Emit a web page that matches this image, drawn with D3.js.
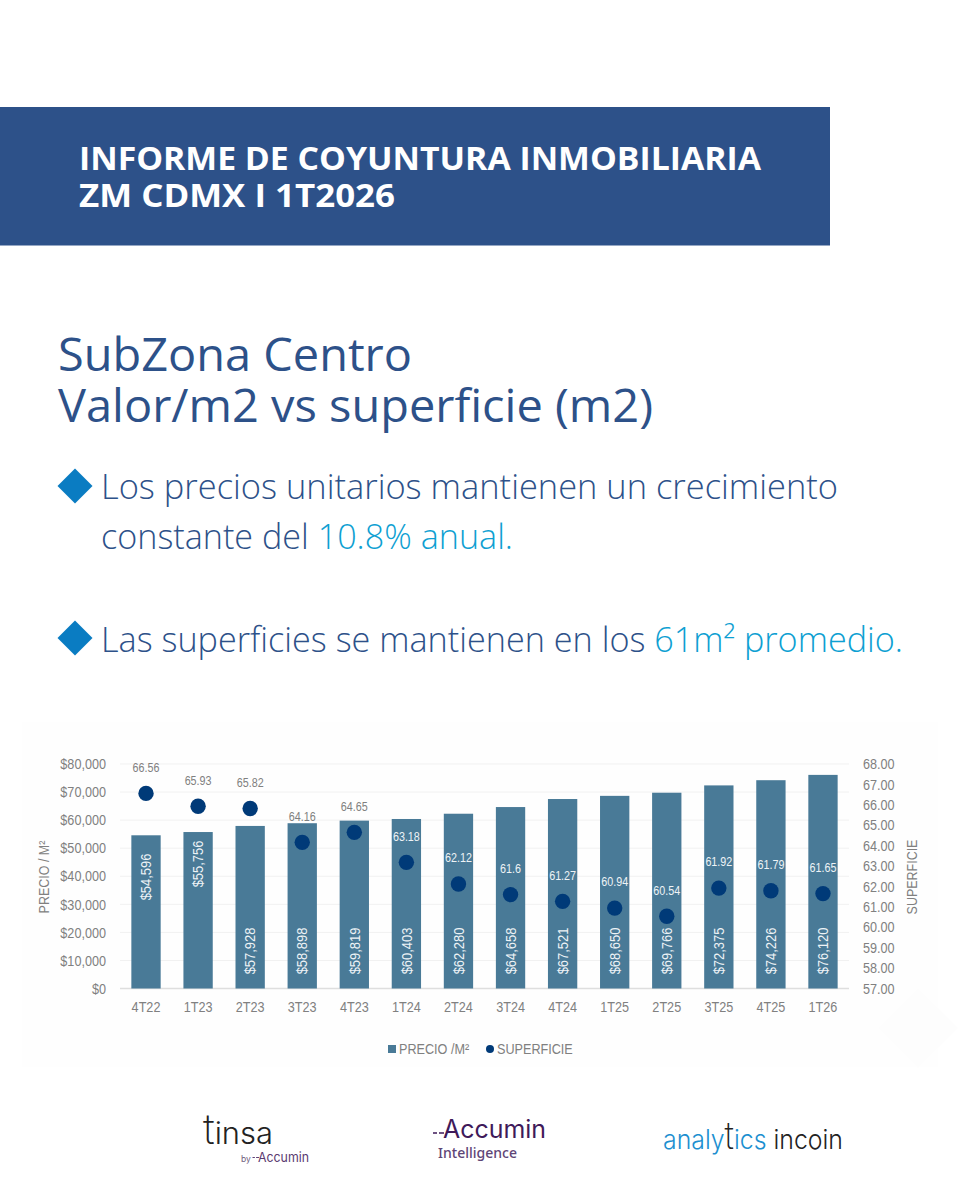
<!DOCTYPE html>
<html lang="es">
<head>
<meta charset="utf-8">
<script src="https://cdn.jsdelivr.net/npm/d3@7"></script>
<style>
html,body{margin:0;padding:0;background:#fff}
svg{display:block}
.ui{font-family:"Open Sans",sans-serif}
.ch{font-family:"Liberation Sans",Arial,sans-serif}
.axis path,.axis line{display:none}
</style>
</head>
<body>
<svg id="c" width="960" height="1200"></svg>
<script>
const categories = ["4T22","1T23","2T23","3T23","4T23","1T24","2T24","3T24","4T24","1T25","2T25","3T25","4T25","1T26"];
const precio = [54596,55756,57928,58898,59819,60403,62280,64658,67521,68650,69766,72375,74226,76120];
const superficie = [66.56,65.93,65.82,64.16,64.65,63.18,62.12,61.6,61.27,60.94,60.54,61.92,61.79,61.65];
const superficieLabels = ["66.56","65.93","65.82","64.16","64.65","63.18","62.12","61.6","61.27","60.94","60.54","61.92","61.79","61.65"];
const priceTicks = [0,10000,20000,30000,40000,50000,60000,70000,80000];
const surfaceTicks = [57,58,59,60,61,62,63,64,65,66,67,68];

const svg = d3.select("#c");
const blue = "#2d5189", sky = "#0e9fd2", diamond = "#0a7cc2";
const gray = "#808080";
const fs = 14.7;

// Banner
svg.append("rect").attr("x",0).attr("y",107).attr("width",830).attr("height",138.5).attr("fill",blue);
const banner = svg.append("g").attr("class","ui").attr("fill","#fff").attr("font-weight",700).attr("font-size",32);
banner.append("text").attr("x",79).attr("y",169.5).attr("textLength",682).attr("lengthAdjust","spacingAndGlyphs").text("INFORME DE COYUNTURA INMOBILIARIA");
banner.append("text").attr("x",79).attr("y",207).attr("textLength",316).attr("lengthAdjust","spacingAndGlyphs").text("ZM CDMX I 1T2026");

// Heading
const head = svg.append("g").attr("class","ui").attr("fill",blue).attr("font-size",46.5).attr("font-weight",400);
head.append("text").attr("x",58).attr("y",370.5).attr("textLength",354).attr("lengthAdjust","spacingAndGlyphs").text("SubZona Centro");
head.append("text").attr("x",58).attr("y",422).attr("textLength",595).attr("lengthAdjust","spacingAndGlyphs").text("Valor/m2 vs superficie (m2)");

// Bullets
const sym = d3.symbol().type(d3.symbolSquare).size(2*17.5*17.5);
[486,638].forEach(y=>svg.append("path").attr("d",sym()).attr("fill",diamond).attr("transform",`translate(75,${y}) rotate(45)`));
const body = svg.append("g").attr("class","ui").attr("fill",blue).attr("font-size",34).attr("font-weight",300);
body.append("text").attr("x",101).attr("y",499).attr("textLength",737).attr("lengthAdjust","spacingAndGlyphs").text("Los precios unitarios mantienen un crecimiento");
const l2 = body.append("text").attr("x",101).attr("y",549).attr("textLength",412).attr("lengthAdjust","spacingAndGlyphs");
l2.append("tspan").text("constante del ");
l2.append("tspan").attr("fill",sky).text("10.8% anual.");
const l3 = body.append("text").attr("x",101).attr("y",652).attr("textLength",802).attr("lengthAdjust","spacingAndGlyphs");
l3.append("tspan").text("Las superficies se mantienen en los ");
l3.append("tspan").attr("fill",sky).text("61m² promedio.");

// Chart panel and its faint watermark
svg.append("rect").attr("x",22).attr("y",722).attr("width",916).attr("height",345).attr("fill","#fefefe");
svg.append("path").attr("d",d3.symbol().type(d3.symbolSquare).size(2*40*40)()).attr("fill","#fdfdfd").attr("transform","translate(918,1028) rotate(45)");

const x = d3.scaleBand().domain(categories).range([120,849]).paddingInner(0.437).paddingOuter(0.218);
const yL = d3.scaleLinear().domain([0,80000]).range([988.5,764]);
const yR = d3.scaleLinear().domain([57,68]).range([988.5,764]);
const chart = svg.append("g").attr("class","ch");

// Grid
chart.append("g").selectAll("line").data(priceTicks).join("line")
  .attr("x1",120).attr("x2",849).attr("y1",d=>yL(d)).attr("y2",d=>yL(d))
  .attr("stroke",d=>d===0?"#dedede":"#f1f1f1").attr("stroke-width",d=>d===0?1.3:1);

// Axes
const axL = chart.append("g").attr("class","axis").attr("transform","translate(120,0)")
  .call(d3.axisLeft(yL).tickValues(priceTicks).tickFormat(d=>"$"+d3.format(",")(d)).tickSize(0).tickPadding(14));
const axR = chart.append("g").attr("class","axis").attr("transform","translate(849,0)")
  .call(d3.axisRight(yR).tickValues(surfaceTicks).tickFormat(d3.format(".2f")).tickSize(0).tickPadding(14));
const axB = chart.append("g").attr("class","axis").attr("transform","translate(0,988.5)")
  .call(d3.axisBottom(x).tickSize(0).tickPadding(13));
[axL,axR,axB].forEach(a=>a.attr("font-family",null).attr("font-size",null).selectAll("text").attr("fill",gray).attr("font-size",fs));
axB.selectAll("text").attr("dy","0.71em");

// Bars
chart.append("g").selectAll("rect").data(precio).join("rect")
  .attr("x",(d,i)=>x(categories[i])).attr("width",x.bandwidth())
  .attr("y",d=>yL(d)).attr("height",d=>yL(0)-yL(d)).attr("fill","#497a97");

// Bar labels (rotated)
const labelY = i => i===0 ? 877 : i===1 ? 864 : 951;
chart.append("g").selectAll("text").data(precio).join("text")
  .attr("transform",(d,i)=>`translate(${x(categories[i])+x.bandwidth()/2},${labelY(i)}) rotate(-90)`)
  .attr("text-anchor","middle").attr("dy","0.35em").attr("fill","#eef3f6").attr("font-size",15)
  .text(d=>"$"+d3.format(",")(d));

// Dots
chart.append("g").selectAll("circle").data(superficie).join("circle")
  .attr("cx",(d,i)=>x(categories[i])+x.bandwidth()/2).attr("cy",d=>yR(d)).attr("r",7.7).attr("fill","#003a78");

// Dot labels
chart.append("g").selectAll("text").data(superficie).join("text")
  .attr("x",(d,i)=>x(categories[i])+x.bandwidth()/2).attr("y",d=>yR(d)-26)
  .attr("text-anchor","middle").attr("dy","0.35em").attr("font-size",12.5)
  .attr("fill",(d,i)=>yR(d)-26>yL(precio[i])+6?"#eef3f6":gray)
  .text((d,i)=>superficieLabels[i]);

// Axis titles
chart.append("text").attr("transform","translate(44,877) rotate(-90)").attr("text-anchor","middle").attr("dy","0.35em")
  .attr("fill",gray).attr("font-size",14.5).text("PRECIO / M²");
chart.append("text").attr("transform","translate(912,877) rotate(-90)").attr("text-anchor","middle").attr("dy","0.35em")
  .attr("fill",gray).attr("font-size",14.5).text("SUPERFICIE");

// Legend
chart.append("rect").attr("x",388).attr("y",1045).attr("width",8).attr("height",8).attr("fill","#497a97");
chart.append("text").attr("x",399).attr("y",1049).attr("dy","0.35em").attr("fill",gray).attr("font-size",fs).text("PRECIO /M²");
chart.append("circle").attr("cx",490).attr("cy",1049).attr("r",4).attr("fill","#003a78");
chart.append("text").attr("x",497).attr("y",1049).attr("dy","0.35em").attr("fill",gray).attr("font-size",fs).text("SUPERFICIE");

// The reference's chart text is a horizontally squeezed Arial
chart.selectAll("text").each(function(){
  const w = this.getComputedTextLength();
  d3.select(this).attr("textLength",w*0.86).attr("lengthAdjust","spacingAndGlyphs");
});

// Logos
const logos = svg.append("g").attr("font-family","Inter, 'Noto Sans', sans-serif").attr("font-weight",300);
const tinsa = logos.append("text").attr("x",203).attr("y",1144).attr("font-size",30).attr("fill","#222").attr("textLength",70).attr("lengthAdjust","spacingAndGlyphs");
tinsa.append("tspan").attr("font-size",42).attr("font-weight",200).text("t");
tinsa.append("tspan").text("insa");
logos.append("text").attr("x",241).attr("y",1162).attr("font-size",8.5).attr("font-weight",400).attr("fill","#6d5a7c").text("by");
function dash(x0,y0,k,color){
  logos.append("path").attr("d",`M${x0},${y0}h${4*k}M${x0+6*k},${y0}h${5*k}`).attr("stroke",color).attr("stroke-width",1.6*k).attr("fill","none");
}
dash(252.5,1157.5,.6,"#5a3a70");
logos.append("text").attr("x",258).attr("y",1162).attr("font-size",13.5).attr("font-weight",400).attr("fill","#5a3a70").attr("textLength",51).attr("lengthAdjust","spacingAndGlyphs").text("Accumin");
dash(433,1133,1,"#3f1a5a");
logos.append("text").attr("x",443).attr("y",1138).attr("font-size",25).attr("font-weight",400).attr("fill","#3f1a5a").attr("textLength",103).attr("lengthAdjust","spacingAndGlyphs").text("Accumin");
logos.append("text").attr("x",438).attr("y",1158).attr("font-family","'Noto Sans',sans-serif").attr("font-size",13.5).attr("font-weight",500).attr("fill","#5e4577").attr("textLength",79).attr("lengthAdjust","spacingAndGlyphs").text("Intelligence");
const an = logos.append("text").attr("x",663).attr("y",1149).attr("font-size",27).attr("textLength",180).attr("lengthAdjust","spacingAndGlyphs");
an.append("tspan").attr("fill","#1c8fd0").text("analy");
an.append("tspan").attr("fill","#222").attr("font-size",38).attr("font-weight",200).text("t");
an.append("tspan").attr("fill","#1c8fd0").text("ics ");
an.append("tspan").attr("fill","#222").text("incoin");
</script>
</body>
</html>
